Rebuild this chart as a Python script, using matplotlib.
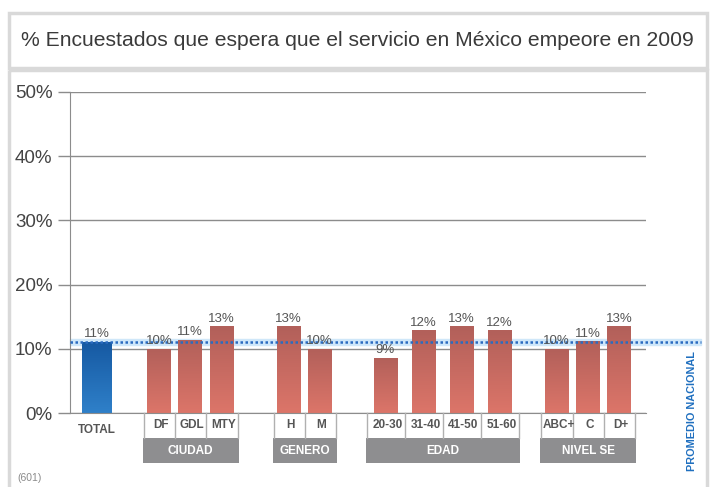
import matplotlib
matplotlib.use("Agg")
import matplotlib.pyplot as plt
import numpy as np
from matplotlib.patches import Rectangle
from matplotlib.colors import LinearSegmentedColormap

plt.rcParams['font.family'] = ['Liberation Sans', 'DejaVu Sans']

# ---- data ----
title = "% Encuestados que espera que el servicio en México empeore en 2009"
total_label = "TOTAL"
total_value = 11.1
total_text = "11%"
groups = ["CIUDAD", "GENERO", "EDAD", "NIVEL SE"]
group_cats = [["DF", "GDL", "MTY"], ["H", "M"], ["20-30", "31-40", "41-50", "51-60"], ["ABC+", "C", "D+"]]
group_vals = [[10.0, 11.4, 13.5], [13.5, 10.0], [8.6, 12.9, 13.5, 12.9], [10.0, 11.2, 13.5]]
group_texts = [["10%", "11%", "13%"], ["13%", "10%"], ["9%", "12%", "13%", "12%"], ["10%", "11%", "13%"]]
national_avg = 11.1
yticks = [0, 10, 20, 30, 40, 50]
ytick_labels = ["0%", "10%", "20%", "30%", "40%", "50%"]
sample_note = "(601)"
avg_label = "PROMEDIO NACIONAL"

# ---- layout (pixel positions) ----
W, H = 714, 487
total_x = 97
group_starts = [159, 288.5, 385.5, 556.5]
group_steps = [31.2, 31, 38, 31.2]
bar_w = 23.5
total_w = 30

fig = plt.figure(figsize=(W / 100, H / 100), dpi=100)

# background frame
bg = fig.add_axes([0, 0, 1, 1], zorder=0)
bg.set_xlim(0, W); bg.set_ylim(H, 0); bg.axis('off')
border = '#d9d9d9'
bg.add_patch(Rectangle((9, 13), 698, 55, fill=False, ec=border, lw=2.5))
bg.add_patch(Rectangle((9, 69.5), 698, 430, fill=False, ec=border, lw=2.5))
bg.text(357, 41, title, ha='center', va='center', fontsize=15.2, color='#3a3a3a')
bg.text(17, 478, sample_note, ha='left', va='center', fontsize=7.5, color='#8a8a8a')

ax = fig.add_axes([70 / W, (H - 413) / H, 576 / W, 321 / H], zorder=2)
ax.patch.set_alpha(0)
ax.set_xlim(70, 646)
ax.set_ylim(0, 50)
for s in ['top', 'right']:
    ax.spines[s].set_visible(False)
gcol = '#8c8c8c'
ax.spines['left'].set_color(gcol)
ax.spines['bottom'].set_color(gcol)
ax.set_yticks(yticks)
ax.set_yticklabels(ytick_labels, fontsize=13.5, color='#444444')
ax.tick_params(axis='y', length=8.6, width=1, color=gcol, pad=4)
ax.tick_params(axis='x', bottom=False, labelbottom=False)
ax.yaxis.grid(True, color=gcol, lw=1)
ax.set_axisbelow(True)

# national average band
ax.axhspan(national_avg - 0.5, national_avg + 0.5, xmin=0, xmax=(701 - 70) / 576,
           color='#cfe7f9', clip_on=False, zorder=1)

red_cmap = LinearSegmentedColormap.from_list('r', ['#dc7569', '#b2605a'])
blue_cmap = LinearSegmentedColormap.from_list('b', ['#2f80c9', '#1659a2'])
grad = np.linspace(0, 1, 100).reshape(-1, 1)

def grad_bar(x, h, w, cmap):
    b = ax.bar([x], [h], width=w, color='none', ec='none', zorder=2)[0]
    im = ax.imshow(grad, cmap=cmap, aspect='auto', origin='lower',
                   extent=[x - w / 2, x + w / 2, 0, h], zorder=2)
    im.set_clip_path(b)
    return b

lab_kw = dict(ha='center', va='bottom', fontsize=9.5, color='#555555', zorder=5)

grad_bar(total_x, total_value, total_w, blue_cmap)
ax.annotate(total_text, (total_x, total_value), xytext=(0, 1),
            textcoords='offset points', **lab_kw)

ov = fig.add_axes([0, 0, 1, 1], zorder=3)
ov.set_xlim(0, W); ov.set_ylim(H, 0); ov.axis('off')
ov.text(total_x, 430, total_label, ha='center', va='center', fontsize=8.5,
        fontweight='bold', color='#555555')

for g, cats, vals, txts, x0, st in zip(groups, group_cats, group_vals, group_texts,
                                       group_starts, group_steps):
    xs = [x0 + i * st for i in range(len(cats))]
    for x, c, v, t in zip(xs, cats, vals, txts):
        grad_bar(x, v, bar_w, red_cmap)
        ax.annotate(t, (x, v), xytext=(0, 1),
                    textcoords='offset points', **lab_kw)
        ov.text(x + 2, 425.5, c, ha='center', va='center', fontsize=8.5,
                fontweight='bold', color='#555555')
    left = xs[0] - st / 2 + 0.5
    right = xs[-1] + st / 2 + 0.5
    seps = [left] + [(a + b) / 2 + 0.5 for a, b in zip(xs[:-1], xs[1:])] + [right]
    for sx in seps:
        ov.plot([sx, sx], [413, 438], color='#b0b0b0', lw=1)
    ov.add_patch(Rectangle((left - 1, 438), right - left + 2, 25, color='#8e8e90', lw=0))
    ov.text((left + right) / 2, 451, g, ha='center', va='center', fontsize=8.5,
            fontweight='bold', color='white')

ax.plot([70, 701], [national_avg, national_avg], color='#2a6bc0', lw=1.8,
        linestyle=(0, (1, 1)), clip_on=False, zorder=4)

ov.text(692, 411, avg_label, rotation=90, ha='center', va='center', fontsize=7.8,
        fontweight='bold', color='#1f6fbf')

fig.savefig('out.png', dpi=100)
